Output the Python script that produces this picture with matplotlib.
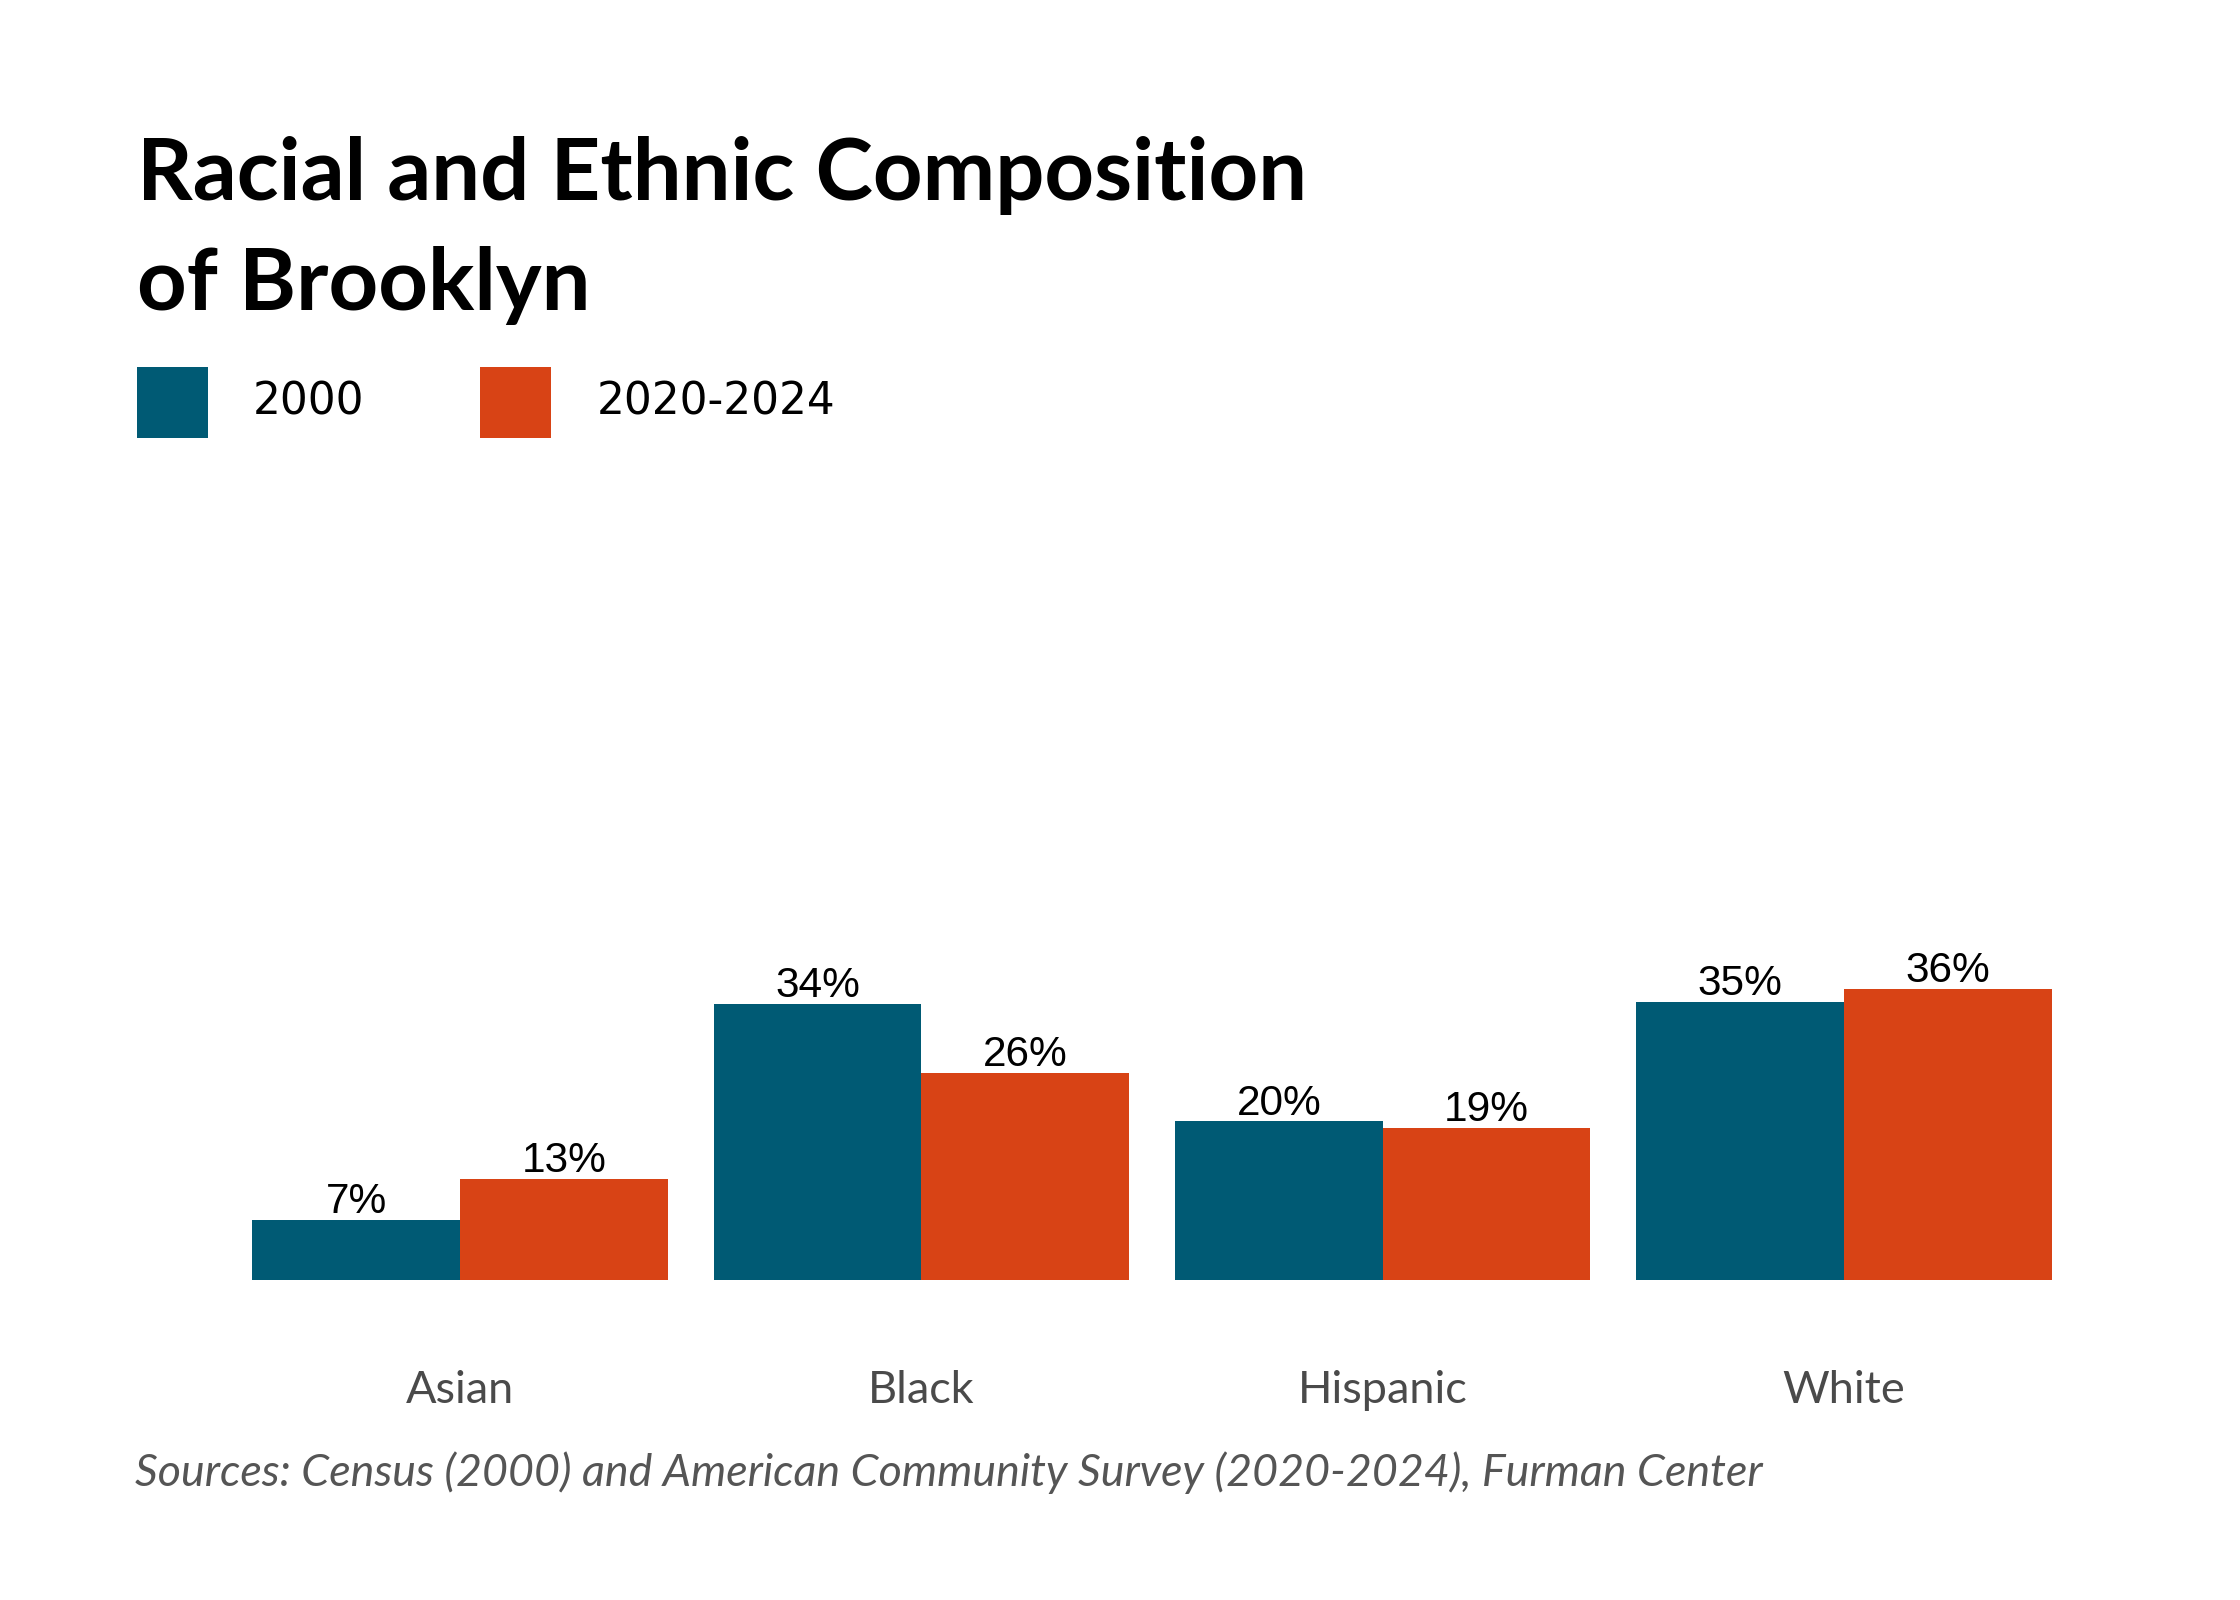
import numpy as np
import matplotlib
matplotlib.use("Agg")
import matplotlib.pyplot as plt

# data (percent of population)
categories = ["Asian", "Black", "Hispanic", "White"]
series_names = ["2000", "2020-2024"]
values_2000 = [7.4, 34.3, 19.7, 34.6]
values_2020 = [12.6, 25.7, 18.9, 36.2]

colors = ["#005A74", "#D84315"]

plt.rcParams["font.family"] = ["Lato", "DejaVu Sans"]

W, H = 2240, 1600
fig = plt.figure(figsize=(W / 100, H / 100), dpi=100)
ax = fig.add_axes([0.1024, 0.2, 0.8238, 0.5])

x = np.arange(len(categories))
w = 0.45
for i, vals in enumerate([values_2000, values_2020]):
    pos = x + (i - 0.5) * w
    ax.bar(pos, vals, width=w, color=colors[i], linewidth=0, label=series_names[i])
    for xp, v in zip(pos, vals):
        ax.annotate(f"{v:.0f}%", (xp, v), xytext=(0, 5), textcoords="offset points",
                    ha="center", va="baseline", fontsize=30.5, color="black",
                    family=["Liberation Sans", "DejaVu Sans"])

ax.set_xlim(-0.5, len(categories) - 0.5)
ax.set_ylim(0, 99.4)
ax.set_xticks(x)
ax.set_xticklabels(categories, fontsize=32.5, color="#4A4A4A")
ax.tick_params(axis="x", length=0, pad=65)
ax.set_yticks([])
for s in ax.spines.values():
    s.set_visible(False)

# title, two lines
title_lines = ["Racial and Ethnic Composition", "of Brooklyn"]
for line, base in zip(title_lines, [200, 310]):
    fig.text(137 / W, 1 - base / H, line, fontsize=62.5, fontweight="bold",
             color="black", ha="left", va="baseline")

# legend squares + labels
sq = 71
for i, (lx, tx) in enumerate([(137, 253), (480, 597)]):
    fig.patches.append(matplotlib.patches.Rectangle(
        (lx / W, 1 - 438 / H), sq / W, sq / H,
        transform=fig.transFigure, color=colors[i], linewidth=0))
    fig.text(tx / W, 1 - 402 / H, series_names[i], fontsize=31.5, color="black",
             ha="left", va="center", family=["DejaVu Sans"])

# source note
fig.text(135 / W, 1 - 1473 / H,
         "Sources: Census (2000) and American Community Survey (2020-2024), Furman Center",
         fontsize=32.2, style="italic", color="#555555", ha="left", va="center")

fig.savefig("out.png", dpi=100, facecolor="white")
